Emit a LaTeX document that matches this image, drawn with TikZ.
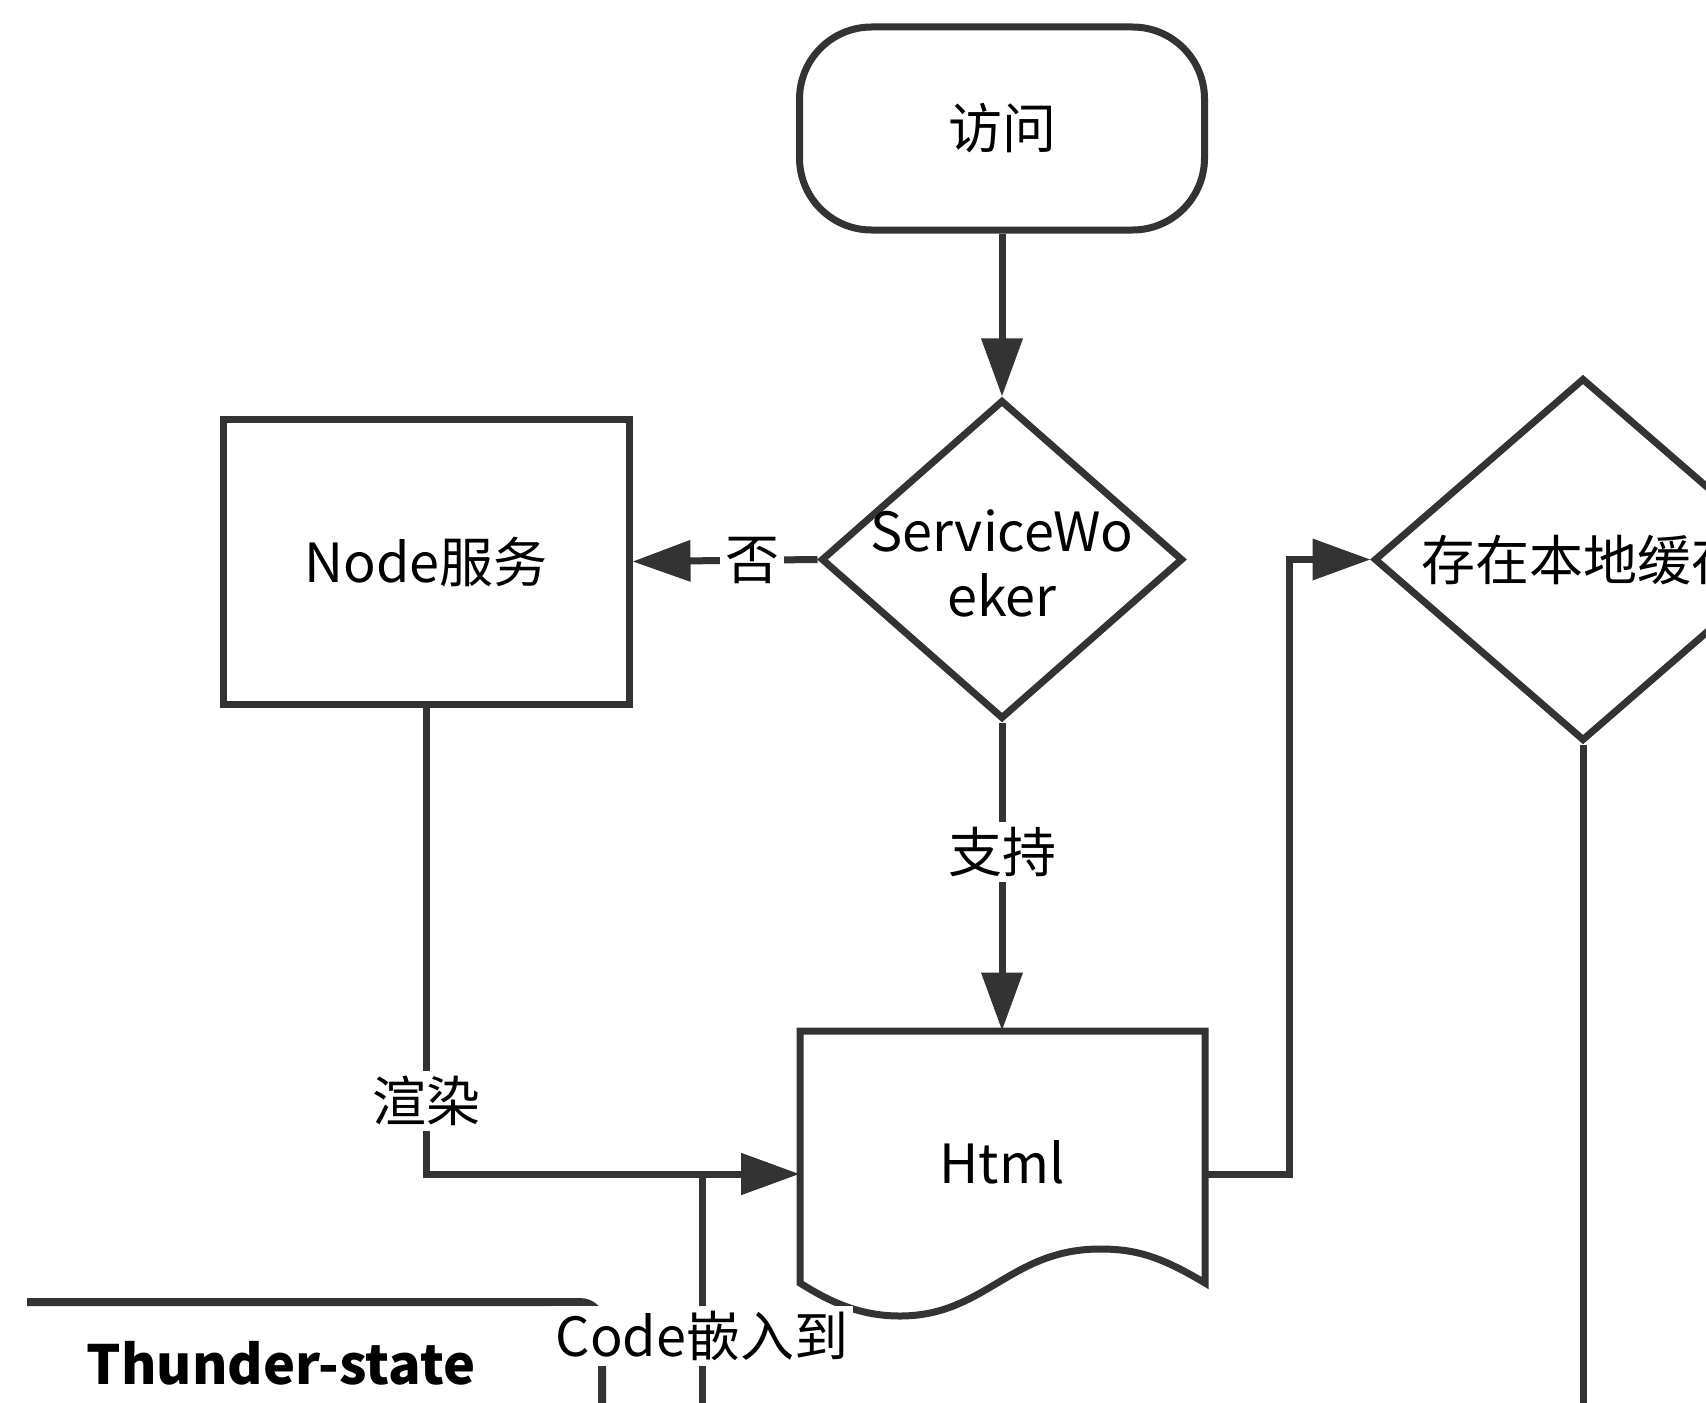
\documentclass[tikz,border=0pt]{standalone}
\usepackage{fontspec}
\setmainfont{Noto Sans CJK SC}
\usetikzlibrary{arrows.meta,shapes.geometric}
\definecolor{ink}{HTML}{333333}
\newcommand\lblfont{\fontsize{27pt}{32.5pt}\selectfont}
\tikzset{
  shapebox/.style={draw=ink, line width=3.5pt, fill=white, inner sep=0pt, font=\lblfont},
  decision/.style={shapebox, diamond, aspect=1},
  flow/.style={draw=ink, line width=3.5pt, -{Triangle[length=29pt,width=20pt]}},
  plainline/.style={draw=ink, line width=3.5pt},
  edgelabel/.style={fill=white, inner sep=2.5pt, font=\lblfont, text=black},
  title/.style={font=\lblfont\bfseries, text=black},
}
\begin{document}
\begin{tikzpicture}[x=0.5pt,y=-0.5pt]
\useasboundingbox (0,0) rectangle (1706,1402);
\clip (0,0) rectangle (1706,1402);
\fill[white] (0,0) rectangle (1706,1402);

% Thunder-state lane (top edge and right side)
\coordinate (laneleft) at (27,1302);
\coordinate (lanecorner) at (602,1302);
\coordinate (lanebottom) at (602,1420);
\draw[draw=ink, line width=4pt, rounded corners=11pt] (laneleft) -- (lanecorner) -- (lanebottom);
\node[title] (lanetitle) at (281,1363) {Thunder-state};

% nodes
\node[shapebox, rounded corners=36pt, minimum width=202.5pt, minimum height=101.5pt]
  (start) at (1002,128.5) {访问};
\node[decision, minimum width=181pt, minimum height=159.5pt] (sw) at (1002,559.5) {};
\node[font=\lblfont, align=center] (swtext) at (1002,563) {ServiceWo\\eker};
\node[shapebox, minimum width=203pt, minimum height=142.5pt] (svc) at (426,561.5) {Node服务};
\node[decision, minimum width=209pt, minimum height=181.5pt] (cache) at (1583,559.5) {};
\node[font=\lblfont] (cachetext) at (1583,560) {存在本地缓存};

% document shape
\node[minimum width=202.5pt, minimum height=143pt, inner sep=0pt] (html) at (1002,1174) {};
\draw[draw=ink, line width=3.5pt, fill=white, line join=miter]
  (800,1031) -- (1205,1031) -- (1205,1283)
  .. controls (1160,1256) and (1135,1249) .. (1100,1249)
  .. controls (1010,1249) and (985,1316) .. (900,1316)
  .. controls (860,1316) and (830,1302) .. (800,1283) -- cycle;
\node[font=\lblfont] (htmltext) at (1002,1162) {Html};

% loose ends leaving the page
\coordinate (cacheout) at (1583,1420);
\coordinate (codestart) at (702,1420);
\coordinate (bend) at (1289,1174);

% connectors
\draw[flow] (start) -- (sw);
\draw[flow] (sw.west) -- (svc.east)
  node[edgelabel, pos=0.354] (nolabel) {否};
\draw[flow] (sw.south) -- (html.north)
  node[edgelabel, pos=0.42] (yeslabel) {支持};
\draw[flow] (svc.south) |- (html.west)
  node[edgelabel, pos=0.422] (renderlabel) {渲染};
\draw[flow] (codestart) |- (html.west)
  node[edgelabel, pos=0.171] (codelabel) {Code嵌入到};
\draw[flow] (html.east) -- (bend) |- (cache.west);
\draw[plainline] (cache.south) -- (cacheout);
\end{tikzpicture}
\end{document}
